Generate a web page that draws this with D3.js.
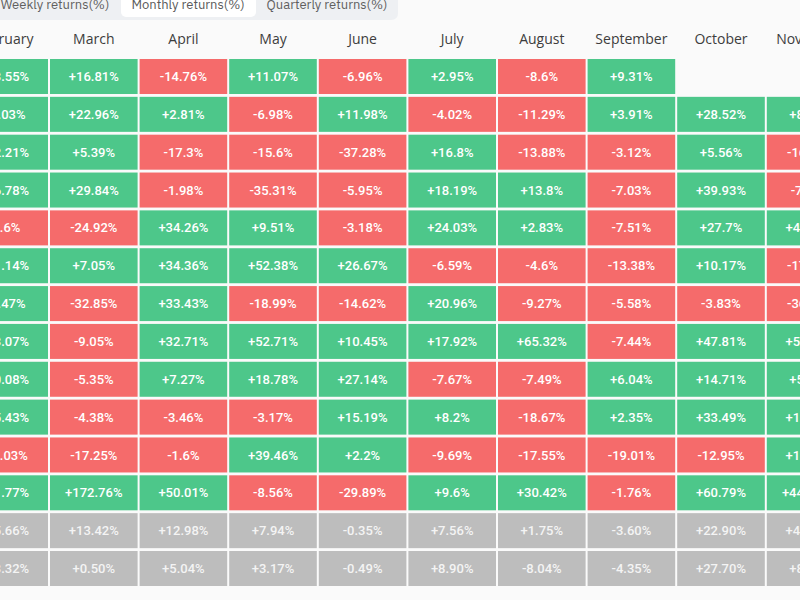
<!DOCTYPE html>
<html>
<head>
<meta charset="utf-8">
<script src="https://cdn.jsdelivr.net/npm/d3@7/dist/d3.min.js"></script>
<style>
  html, body { margin: 0; padding: 0; background: #fafafa; overflow: hidden; }
  svg { display: block; }
</style>
</head>
<body>
<svg id="chart" width="800" height="600"></svg>
<script>
// ---- Data ----
const tabs = ["Weekly returns(%)", "Monthly returns(%)", "Quarterly returns(%)"];
const activeTab = "Monthly returns(%)";
const months = ["February", "March", "April", "May", "June", "July", "August", "September", "October", "November"];
const rowLabels = ["2024", "2023", "2022", "2021", "2020", "2019", "2018", "2017", "2016", "2015", "2014", "2013", "Average", "Median"];
const statRows = ["Average", "Median"];

const february  = [43.55, 0.03, 12.21, 36.78, -8.6, 11.14, 0.47, 23.07, 20.08, 15.43, -31.03, 61.77, 15.66, 13.32];
const march     = [16.81, 22.96, 5.39, 29.84, -24.92, 7.05, -32.85, -9.05, -5.35, -4.38, -17.25, 172.76, 13.42, 0.50];
const april     = [-14.76, 2.81, -17.3, -1.98, 34.26, 34.36, 33.43, 32.71, 7.27, -3.46, -1.6, 50.01, 12.98, 5.04];
const may       = [11.07, -6.98, -15.6, -35.31, 9.51, 52.38, -18.99, 52.71, 18.78, -3.17, 39.46, -8.56, 7.94, 3.17];
const june      = [-6.96, 11.98, -37.28, -5.95, -3.18, 26.67, -14.62, 10.45, 27.14, 15.19, 2.2, -29.89, -0.35, -0.49];
const july      = [2.95, -4.02, 16.8, 18.19, 24.03, -6.59, 20.96, 17.92, -7.67, 8.2, -9.69, 9.6, 7.56, 8.90];
const august    = [-8.6, -11.29, -13.88, 13.8, 2.83, -4.6, -9.27, 65.32, -7.49, -18.67, -17.55, 30.42, 1.75, -8.04];
const september = [9.31, 3.91, -3.12, -7.03, -7.51, -13.38, -5.58, -7.44, 6.04, 2.35, -19.01, -1.76, -3.60, -4.35];
const october   = [null, 28.52, 5.56, 39.93, 27.7, 10.17, -3.83, 47.81, 14.71, 33.49, -12.95, 60.79, 22.90, 27.70];
const november  = [null, 8.81, -16.23, -7.11, 42.95, -17.27, -36.57, 53.48, 5.42, 19.27, 12.82, 449.35, 46.81, 8.81];
const monthValues = [february, march, april, may, june, july, august, september, october, november];

// ---- Build cells ----
const cells = [];
months.forEach((m, ci) => {
  rowLabels.forEach((r, ri) => {
    const v = monthValues[ci][ri];
    if (v === null || v === undefined) return;
    cells.push({ month: m, row: r, value: v, stat: statRows.includes(r) });
  });
});

const svg = d3.select("#chart");
const W = 800, H = 600;

const colors = { pos: "#4dc78a", neg: "#f56b6b", stat: "#bdbdbd" };

const x = d3.scaleBand().domain(months).range([-39.6, 854.4]).paddingInner(0.0223);
const y = d3.scaleBand().domain(rowLabels).range([59, 586]).paddingInner(0.075);

// ---- Tab bar ----
const tabX = d3.scaleOrdinal().domain(tabs).range([55, 188, 327]);
const tabBar = svg.append("g");
tabBar.append("path")
  .attr("d", "M-10,-10 H398 V13 Q398,20 391,20 H-10 Z")
  .attr("fill", "#eef0f3");
tabBar.append("rect")
  .attr("x", 121).attr("y", -10).attr("width", 135).attr("height", 27)
  .attr("rx", 5).attr("fill", "#ffffff");
tabBar.selectAll("text.tab").data(tabs).join("text")
  .attr("class", "tab")
  .attr("x", d => tabX(d)).attr("y", 8.5)
  .attr("text-anchor", "middle")
  .attr("font-family", "'IBM Plex Sans', 'Open Sans', sans-serif")
  .attr("font-size", 13)
  .attr("fill", d => d === activeTab ? "#5a5a5a" : "#5f5f5f")
  .text(d => d);

// ---- Header ----
svg.append("g").selectAll("text.month").data(months).join("text")
  .attr("class", "month")
  .attr("x", d => x(d) + x.bandwidth() / 2)
  .attr("y", 39)
  .attr("dy", "0.35em")
  .attr("text-anchor", "middle")
  .attr("font-family", "'Open Sans', sans-serif")
  .attr("font-size", 14)
  .attr("fill", "#3d3d3d")
  .text(d => d);

// ---- Cells ----
const fmt = d => {
  const s = d.stat ? Math.abs(d.value).toFixed(2) : String(Math.abs(d.value));
  return (d.value < 0 ? "-" : "+") + s + "%";
};

const cg = svg.append("g");
cg.selectAll("rect.cell").data(cells).join("rect")
  .attr("class", "cell")
  .attr("x", d => x(d.month))
  .attr("y", d => y(d.row))
  .attr("width", x.bandwidth())
  .attr("height", y.bandwidth())
  .attr("fill", d => d.stat ? colors.stat : (d.value < 0 ? colors.neg : colors.pos));

cg.selectAll("text.val").data(cells).join("text")
  .attr("class", "val")
  .attr("x", d => x(d.month) + x.bandwidth() / 2)
  .attr("y", d => y(d.row) + y.bandwidth() / 2)
  .attr("dy", "0.35em")
  .attr("text-anchor", "middle")
  .attr("font-family", "Roboto, sans-serif")
  .attr("font-weight", 500)
  .attr("font-size", 13)
  .attr("fill", d => d.stat ? "#f4f4f4" : "#ffffff")
  .text(fmt);
</script>
</body>
</html>
